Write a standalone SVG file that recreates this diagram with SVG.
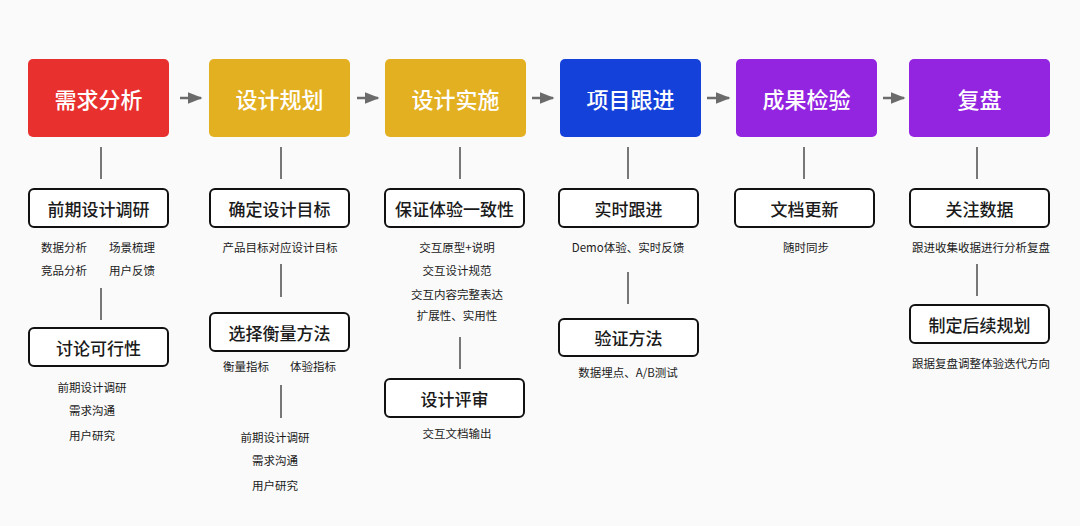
<svg xmlns="http://www.w3.org/2000/svg" width="1080" height="526" viewBox="0 0 1080 526">
<defs>
<marker id="ah" viewBox="0 0 10 10" refX="9" refY="5" markerWidth="6" markerHeight="6" orient="auto"><path d="M0,1 L10,5 L0,9 z" fill="#6b6b6b"/></marker>
<style>
text{font-family:"Noto Sans CJK SC","Noto Sans",sans-serif;text-anchor:middle;dominant-baseline:central;fill:#1a1a1a}
.t{font-size:22px;fill:#fff;font-weight:500}
.s{font-size:17px;font-weight:500}
.m{font-size:11.5px}
.sb{fill:#fff;stroke:#111;stroke-width:2}
.ln{stroke:#777;stroke-width:2;fill:none}
.ar{stroke:#6b6b6b;stroke-width:2.5;fill:none}
</style>
</defs>
<rect width="1080" height="526" fill="#fafafa"/>
<g id="connectors">
<line class="ar" x1="180" y1="98" x2="201" y2="98" marker-end="url(#ah)"/>
<line class="ar" x1="357" y1="98" x2="378" y2="98" marker-end="url(#ah)"/>
<line class="ar" x1="532" y1="98" x2="553" y2="98" marker-end="url(#ah)"/>
<line class="ar" x1="707" y1="98" x2="729" y2="98" marker-end="url(#ah)"/>
<line class="ar" x1="883" y1="98" x2="904" y2="98" marker-end="url(#ah)"/>
<line class="ln" x1="101" y1="147" x2="101" y2="179"/>
<line class="ln" x1="281" y1="147" x2="281" y2="179"/>
<line class="ln" x1="460" y1="147" x2="460" y2="179"/>
<line class="ln" x1="628" y1="147" x2="628" y2="179"/>
<line class="ln" x1="804" y1="147" x2="804" y2="179"/>
<line class="ln" x1="977" y1="147" x2="977" y2="179"/>
<line class="ln" x1="101" y1="288" x2="101" y2="320"/>
<line class="ln" x1="281" y1="264" x2="281" y2="297"/>
<line class="ln" x1="281" y1="385" x2="281" y2="418"/>
<line class="ln" x1="460" y1="337" x2="460" y2="369"/>
<line class="ln" x1="628" y1="272" x2="628" y2="304"/>
<line class="ln" x1="977" y1="264" x2="977" y2="296"/>
</g>
<g id="n1"><rect x="28" y="59" width="141" height="78" rx="5" fill="#e8302f"/><text class="t" x="98.5" y="98">需求分析</text></g>
<g id="n2"><rect x="209" y="59" width="141" height="78" rx="5" fill="#e3b022"/><text class="t" x="279.5" y="98">设计规划</text></g>
<g id="n3"><rect x="385" y="59" width="141" height="78" rx="5" fill="#e3b022"/><text class="t" x="455.5" y="98">设计实施</text></g>
<g id="n4"><rect x="560" y="59" width="141" height="78" rx="5" fill="#1441da"/><text class="t" x="630.5" y="98">项目跟进</text></g>
<g id="n5"><rect x="736" y="59" width="141" height="78" rx="5" fill="#9325e1"/><text class="t" x="806.5" y="98">成果检验</text></g>
<g id="n6"><rect x="909" y="59" width="141" height="78" rx="5" fill="#9325e1"/><text class="t" x="979.5" y="98">复盘</text></g>
<g id="s1"><rect class="sb" x="29" y="189" width="139" height="38" rx="5"/><text class="s" x="98.5" y="208">前期设计调研</text>
<text class="m" x="64" y="247">数据分析</text><text class="m" x="132" y="247">场景梳理</text>
<text class="m" x="64" y="270">竞品分析</text><text class="m" x="132" y="270">用户反馈</text></g>
<g id="s1b"><rect class="sb" x="29" y="328" width="139" height="38" rx="5"/><text class="s" x="98.5" y="347">讨论可行性</text>
<text class="m" x="92" y="387">前期设计调研</text><text class="m" x="92" y="410">需求沟通</text><text class="m" x="92" y="435">用户研究</text></g>
<g id="s2"><rect class="sb" x="210" y="189" width="139" height="38" rx="5"/><text class="s" x="279.5" y="208">确定设计目标</text>
<text class="m" x="280" y="247">产品目标对应设计目标</text></g>
<g id="s2b"><rect class="sb" x="210" y="313" width="139" height="38" rx="5"/><text class="s" x="279.5" y="332">选择衡量方法</text>
<text class="m" x="246" y="366">衡量指标</text><text class="m" x="313" y="366">体验指标</text>
<text class="m" x="275" y="437">前期设计调研</text><text class="m" x="275" y="460">需求沟通</text><text class="m" x="275" y="485">用户研究</text></g>
<g id="s3"><rect class="sb" x="385" y="189" width="139" height="38" rx="5"/><text class="s" x="454.5" y="208">保证体验一致性</text>
<text class="m" x="457" y="247">交互原型+说明</text><text class="m" x="457" y="270">交互设计规范</text>
<text class="m" x="457" y="294">交互内容完整表达</text><text class="m" x="457" y="315">扩展性、实用性</text></g>
<g id="s3b"><rect class="sb" x="385" y="379" width="139" height="38" rx="5"/><text class="s" x="454.5" y="398">设计评审</text>
<text class="m" x="457" y="433">交互文档输出</text></g>
<g id="s4"><rect class="sb" x="559" y="189" width="139" height="38" rx="5"/><text class="s" x="628.5" y="208">实时跟进</text>
<text class="m" x="628" y="247">Demo体验、实时反馈</text></g>
<g id="s4b"><rect class="sb" x="559" y="319" width="139" height="37" rx="5"/><text class="s" x="628.5" y="337">验证方法</text>
<text class="m" x="628" y="372">数据埋点、A/B测试</text></g>
<g id="s5"><rect class="sb" x="735" y="189" width="139" height="38" rx="5"/><text class="s" x="804.5" y="208">文档更新</text>
<text class="m" x="806" y="247">随时同步</text></g>
<g id="s6"><rect class="sb" x="910" y="189" width="139" height="38" rx="5"/><text class="s" x="979.5" y="208">关注数据</text>
<text class="m" x="981" y="247">跟进收集收据进行分析复盘</text></g>
<g id="s6b"><rect class="sb" x="910" y="305" width="139" height="38" rx="5"/><text class="s" x="979.5" y="324">制定后续规划</text>
<text class="m" x="981" y="363">跟据复盘调整体验迭代方向</text></g>
</svg>
